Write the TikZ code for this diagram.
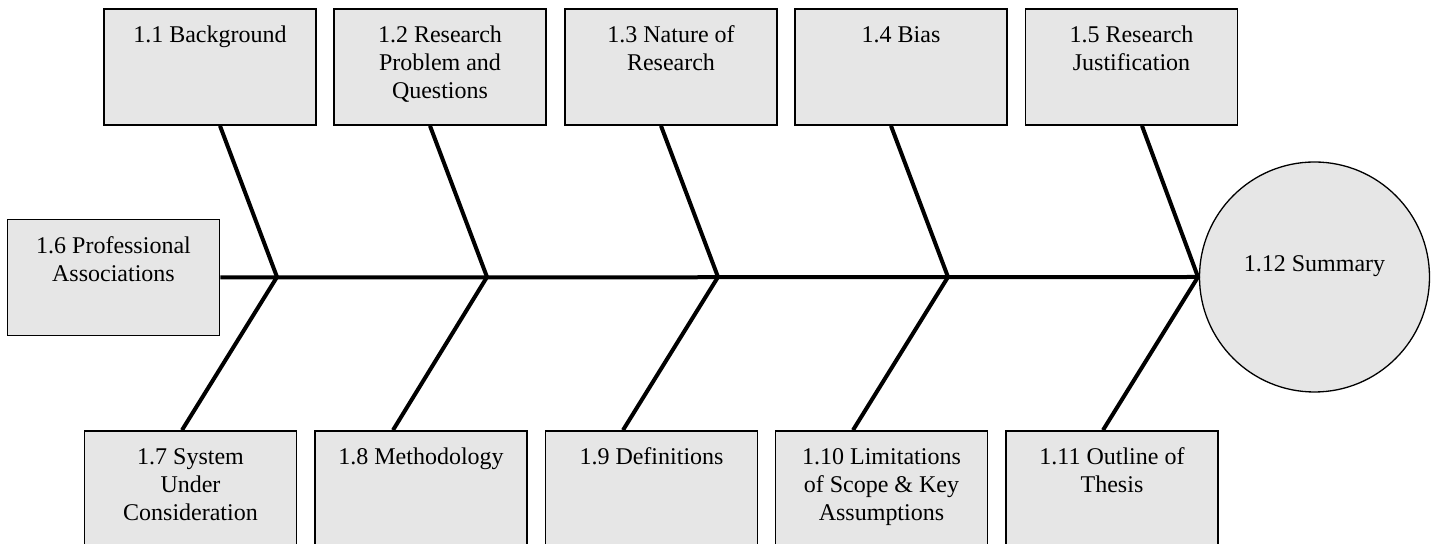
\documentclass[tikz,border=0pt]{standalone}
\usepackage{fontspec}
\setmainfont{Liberation Serif}
\definecolor{boxfill}{RGB}{230,230,230}
% text of a topic box: top-aligned, centred lines
\newcommand{\topictext}[1]{\parbox[c][58pt][t]{104pt}{\centering\rule{0pt}{17pt}#1}}
\tikzset{
  topicbox/.style={draw=black, line width=0.85pt, fill=boxfill, inner sep=0pt,
    minimum width=106pt, minimum height=58pt,
    font=\fontsize{12pt}{13.8pt}\selectfont},
  headcircle/.style={circle, draw=black, line width=0.65pt, fill=boxfill,
    inner sep=0pt, minimum size=115pt, font=\fontsize{12pt}{13.8pt}\selectfont},
  bone/.style={draw=black, line width=2pt, line join=miter}
}
\begin{document}
\begin{tikzpicture}[x=0.5pt, y=-0.5pt]
\useasboundingbox (0,0) rectangle (1437,544);

% upper row of causes
\node[topicbox] (b1) at (210,67)    {\topictext{1.1 Background}};
\node[topicbox] (b2) at (440,67)    {\topictext{1.2 Research\\Problem and\\Questions}};
\node[topicbox] (b3) at (671,67)    {\topictext{1.3 Nature of\\Research}};
\node[topicbox] (b4) at (901,67)    {\topictext{1.4 Bias}};
\node[topicbox] (b5) at (1131.5,67) {\topictext{1.5 Research\\Justification}};

% tail box
\node[topicbox] (b6) at (113.5,277.5) {\topictext{1.6 Professional\\Associations}};

% lower row of causes
\node[topicbox] (b7)  at (190.5,489)  {\topictext{1.7 System\\Under\\Consideration}};
\node[topicbox] (b8)  at (421,489)    {\topictext{1.8 Methodology}};
\node[topicbox] (b9)  at (651.5,489)  {\topictext{1.9 Definitions}};
\node[topicbox] (b10) at (881.5,489)  {\topictext{1.10 Limitations\\of Scope \& Key\\Assumptions}};
\node[topicbox] (b11) at (1112,489)   {\topictext{1.11 Outline of\\Thesis}};

% head
\node[headcircle] (sum) at (1314.5,277) {\raisebox{2.5pt}[0pt][0pt]{1.12 Summary}};

% joints on the spine
\coordinate (j1) at (277,277);
\coordinate (j2) at (487,277);
\coordinate (j3) at (718,277);
\coordinate (j4) at (948,277);
\coordinate (j5) at (1198,277);

% spine
\draw[bone] (b6.east) -- (sum.west);

% ribs
\draw[bone] ([xshift=5pt]b1.south)     -- (j1) -- ([xshift=-4.25pt]b7.north);
\draw[bone] ([xshift=-5pt]b2.south)    -- (j2) -- ([xshift=-14pt]b8.north);
\draw[bone] ([xshift=-5pt]b3.south)    -- (j3) -- ([xshift=-14.25pt]b9.north);
\draw[bone] ([xshift=-5pt]b4.south)    -- (j4) -- ([xshift=-14.25pt]b10.north);
\draw[bone] ([xshift=5.25pt]b5.south)  -- (j5) -- ([xshift=-4.5pt]b11.north);
\end{tikzpicture}
\end{document}
